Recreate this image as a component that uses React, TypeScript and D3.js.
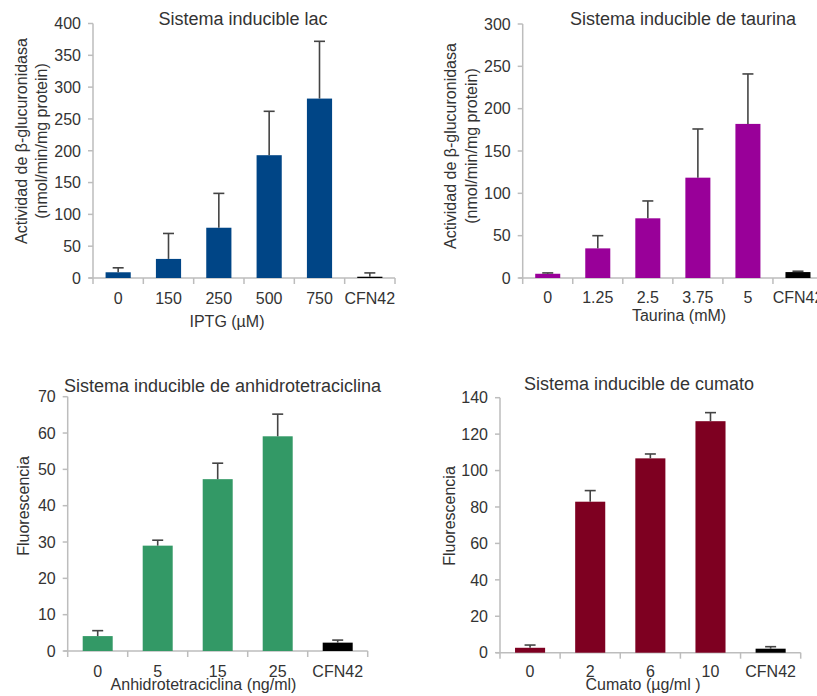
import React from "react";
import * as d3 from "d3";

// Lac-inducible system: β-glucuronidase activity vs IPTG
const lacDoses = ["0", "150", "250", "500", "750", "CFN42"];
const lacMeans = [9, 30, 79, 193, 282, 2];
const lacErrors = [7, 40, 54, 69, 90, 6];

// Taurine-inducible system
const taurDoses = ["0", "1.25", "2.5", "3.75", "5", "CFN42"];
const taurMeans = [5, 35, 70.5, 118.5, 182, 7];
const taurErrors = [1, 15, 20.5, 57.5, 59, 1];

// Anhydrotetracycline-inducible system: fluorescence
const atcDoses = ["0", "5", "15", "25", "CFN42"];
const atcMeans = [4.1, 29, 47.3, 59.1, 2.3];
const atcErrors = [1.5, 1.5, 4.4, 6.1, 0.7];

// Cumate-inducible system: fluorescence
const cumDoses = ["0", "2", "6", "10", "CFN42"];
const cumMeans = [2.7, 82.9, 106.7, 127.1, 2.2];
const cumErrors = [1.5, 6.1, 2.4, 4.7, 1.1];

const FONT = "'Liberation Sans', Arial, sans-serif";
const TEXT = "#333333";
const AXIS = "#bdbdbd";
const ERR = "#444444";

type PanelProps = {
  title: string;
  titleX: number;
  titleY: number;
  doses: string[];
  means: number[];
  errors: number[];
  color: string;
  yMax: number;
  yStep: number;
  x0: number;
  x1: number;
  yTop: number;
  yBot: number;
  yTitle: string[];
  yTitleX: number[];
  yTitleY: number;
  xTitle: string;
  xTitleX: number;
  xTitleY: number;
  tickLabelY: number;
};

function Panel(p: PanelProps) {
  const x = d3
    .scaleBand<string>()
    .domain(p.doses)
    .range([p.x0, p.x1])
    .paddingInner(0.5)
    .paddingOuter(0.25);
  const y = d3.scaleLinear().domain([0, p.yMax]).range([p.yBot, p.yTop]);
  const yTicks = d3.range(0, p.yMax + p.yStep / 2, p.yStep);
  const step = x.step();
  const bw = x.bandwidth();
  const boundaries = d3.range(p.doses.length + 1).map((i) => p.x0 + i * step);

  return (
    <g fontFamily={FONT}>
      <text x={p.titleX} y={p.titleY} textAnchor="middle" fontSize={18} fill={TEXT}>
        {p.title}
      </text>

      {/* y axis */}
      <line x1={p.x0} x2={p.x0} y1={p.yTop} y2={p.yBot} stroke={AXIS} strokeWidth={1.5} />
      {yTicks.map((t) => (
        <g key={"y" + t}>
          <line x1={p.x0 - 5} x2={p.x0} y1={y(t)} y2={y(t)} stroke={AXIS} strokeWidth={1.5} />
          <text
            x={p.x0 - 12}
            y={y(t)}
            dy="0.36em"
            textAnchor="end"
            fontSize={16}
            fill={TEXT}
          >
            {t}
          </text>
        </g>
      ))}

      {/* x axis */}
      <line x1={p.x0 - 4} x2={p.x1} y1={p.yBot} y2={p.yBot} stroke={AXIS} strokeWidth={1.5} />
      {boundaries.map((bx, i) => (
        <line key={"xt" + i} x1={bx} x2={bx} y1={p.yBot} y2={p.yBot + 6} stroke={AXIS} strokeWidth={1.5} />
      ))}
      {p.doses.map((d) => (
        <text
          key={"xl" + d}
          x={(x(d) as number) + bw / 2}
          y={p.tickLabelY}
          textAnchor="middle"
          fontSize={16}
          fill={TEXT}
        >
          {d}
        </text>
      ))}

      {/* bars */}
      {p.doses.map((d, i) => (
        <rect
          key={"b" + d}
          x={x(d) as number}
          y={y(p.means[i])}
          width={bw}
          height={p.yBot - y(p.means[i])}
          fill={d === "CFN42" ? "#000000" : p.color}
        />
      ))}

      {/* error bars */}
      {p.doses.map((d, i) => {
        const cx = (x(d) as number) + bw / 2;
        const yt = y(p.means[i] + p.errors[i]);
        return (
          <g key={"e" + d} stroke={ERR} strokeWidth={1.6}>
            <line x1={cx} x2={cx} y1={y(p.means[i])} y2={yt} />
            <line x1={cx - 5.5} x2={cx + 5.5} y1={yt} y2={yt} />
          </g>
        );
      })}

      {/* axis titles */}
      {p.yTitle.map((line, i) => (
        <text
          key={"yt" + i}
          transform={`translate(${p.yTitleX[i]},${p.yTitleY}) rotate(-90)`}
          dy="0.36em"
          textAnchor="middle"
          fontSize={16}
          fill={TEXT}
        >
          {line}
        </text>
      ))}
      <text x={p.xTitleX} y={p.xTitleY} textAnchor="middle" fontSize={16} fill={TEXT}>
        {p.xTitle}
      </text>
    </g>
  );
}

export default function App() {
  return (
    <svg
      width={817}
      height={696}
      style={{ position: "absolute", left: 0, top: 0, background: "#ffffff" }}
    >
      <rect width={817} height={696} fill="#ffffff" />
      <Panel
        title="Sistema inducible lac"
        titleX={243}
        titleY={25}
        doses={lacDoses}
        means={lacMeans}
        errors={lacErrors}
        color="#004586"
        yMax={400}
        yStep={50}
        x0={93}
        x1={395}
        yTop={23.5}
        yBot={278}
        yTitle={["Actividad de β-glucuronidasa", "(nmol/min/mg protein)"]}
        yTitleX={[21, 41]}
        yTitleY={141}
        xTitle="IPTG (µM)"
        xTitleX={227}
        xTitleY={327}
        tickLabelY={304}
      />
      <Panel
        title="Sistema inducible de taurina"
        titleX={683}
        titleY={25}
        doses={taurDoses}
        means={taurMeans}
        errors={taurErrors}
        color="#990099"
        yMax={300}
        yStep={50}
        x0={522.7}
        x1={823}
        yTop={24}
        yBot={278}
        yTitle={["Actividad de β-glucuronidasa", "(nmol/min/mg protein)"]}
        yTitleX={[450, 471]}
        yTitleY={146}
        xTitle="Taurina (mM)"
        xTitleX={679}
        xTitleY={321}
        tickLabelY={303}
      />
      <Panel
        title="Sistema inducible de anhidrotetraciclina"
        titleX={222.5}
        titleY={391.5}
        doses={atcDoses}
        means={atcMeans}
        errors={atcErrors}
        color="#339966"
        yMax={70}
        yStep={10}
        x0={67.7}
        x1={367.7}
        yTop={396.7}
        yBot={651}
        yTitle={["Fluorescencia"]}
        yTitleX={[23]}
        yTitleY={506}
        xTitle="Anhidrotetraciclina (ng/ml)"
        xTitleX={203.5}
        xTitleY={690}
        tickLabelY={676.5}
      />
      <Panel
        title="Sistema inducible de cumato"
        titleX={639}
        titleY={389.5}
        doses={cumDoses}
        means={cumMeans}
        errors={cumErrors}
        color="#7e0021"
        yMax={140}
        yStep={20}
        x0={500}
        x1={800.7}
        yTop={397.7}
        yBot={652.7}
        yTitle={["Fluorescencia"]}
        yTitleX={[449]}
        yTitleY={516}
        xTitle="Cumato  (µg/ml )"
        xTitleX={643}
        xTitleY={690}
        tickLabelY={677}
      />
    </svg>
  );
}
